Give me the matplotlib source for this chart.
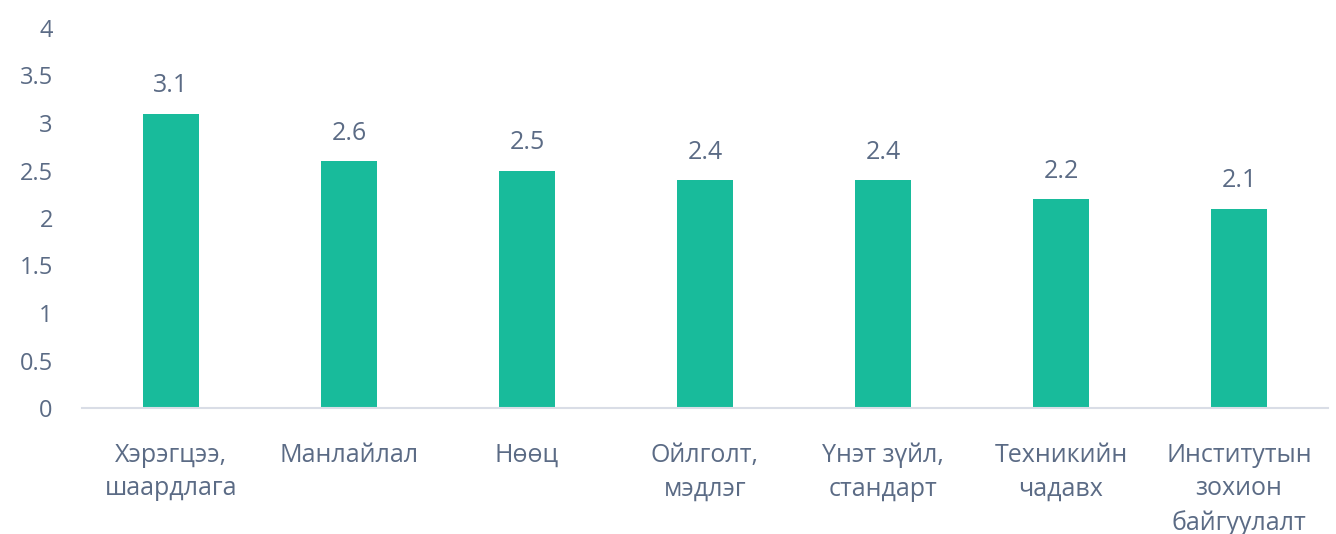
import matplotlib
matplotlib.use("Agg")
import matplotlib.pyplot as plt

categories = ["Хэрэгцээ,\nшаардлага", "Манлайлал", "Нөөц", "Ойлголт,\nмэдлэг",
              "Үнэт зүйл,\nстандарт", "Техникийн\nчадавх", "Институтын\nзохион\nбайгуулалт"]
values = [3.1, 2.6, 2.5, 2.4, 2.4, 2.2, 2.1]
yticks = [0, 0.5, 1, 1.5, 2, 2.5, 3, 3.5, 4]
ytick_labels = ["0", "0.5", "1", "1.5", "2", "2.5", "3", "3.5", "4"]

plt.rcParams['font.family'] = ['Open Sans', 'DejaVu Sans']
text_color = "#5b6b85"
bar_color = "#18bb9b"

fig = plt.figure(figsize=(13.36, 5.34), dpi=100)
ax = fig.add_axes([82/1336, 1 - 408/534, 1246/1336, (408-28)/534])

x = list(range(len(categories)))
bars = ax.bar(x, values, width=0.315, color=bar_color, zorder=2)
for xi, v in zip(x, values):
    ax.annotate(f"{v:g}", (xi, v), xytext=(0, 11), textcoords="offset points",
                ha="center", va="bottom", fontsize=18, color=text_color)

ax.set_xlim(-0.5, len(categories) - 0.5)
ax.set_ylim(0, 4)
ax.set_yticks(yticks)
ax.set_yticklabels(ytick_labels)
ax.set_xticks(x)
ax.set_xticklabels(categories, linespacing=1.45)
ax.tick_params(axis='y', length=0, pad=21, labelsize=17, labelcolor=text_color)
ax.tick_params(axis='x', length=0, pad=25, labelsize=18, labelcolor=text_color)
for s in ["top", "right", "left"]:
    ax.spines[s].set_visible(False)
ax.spines["bottom"].set_color("#d9dde6")
ax.spines["bottom"].set_linewidth(1.5)

fig.savefig("out.png", dpi=100)
